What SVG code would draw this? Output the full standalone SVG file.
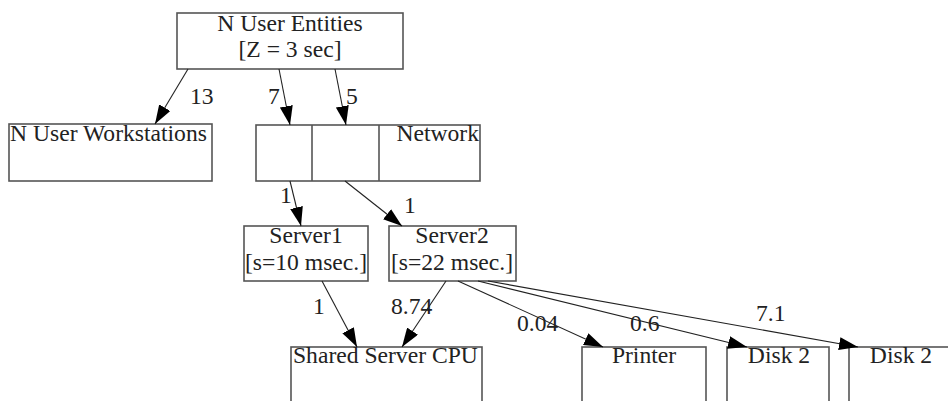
<svg xmlns="http://www.w3.org/2000/svg" width="948" height="401" viewBox="0 0 948 401">
<style>
  .box { fill: #fff; stroke: #555; stroke-width: 1.6; }
  .lbl { font-family: "Liberation Serif", "Times New Roman", serif; font-size: 23.6px; fill: #222; }
  .mid { text-anchor: middle; }
  .end { text-anchor: end; }
  .edge { stroke: #222; stroke-width: 1.1; fill: none; marker-end: url(#arr); }
</style>
<defs>
  <marker id="arr" markerUnits="userSpaceOnUse" markerWidth="19" markerHeight="13" viewBox="0 0 19 13" refX="19" refY="6.5" orient="auto">
    <path d="M0,0 L19,6.5 L0,13 Z" fill="#000"/>
  </marker>
</defs>
<rect width="948" height="401" fill="#fff"/>

<g id="entities">
  <rect class="box" x="177" y="13" width="226" height="56"/>
  <text class="lbl mid" x="290" y="31">N User Entities</text>
  <text class="lbl mid" x="290" y="57">[Z = 3 sec]</text>
</g>
<g id="workstations">
  <rect class="box" x="9" y="124" width="203" height="57"/>
  <text class="lbl" x="10" y="141">N User Workstations</text>
</g>
<g id="network">
  <rect class="box" x="256" y="125" width="224" height="56"/>
  <line x1="312" y1="125" x2="312" y2="181" stroke="#555" stroke-width="1.6"/>
  <line x1="379" y1="125" x2="379" y2="181" stroke="#555" stroke-width="1.6"/>
  <text class="lbl end" x="479" y="141">Network</text>
</g>
<g id="server1">
  <rect class="box" x="244" y="226" width="124" height="55"/>
  <text class="lbl mid" x="306" y="243">Server1</text>
  <text class="lbl mid" x="306" y="270">[s=10 msec.]</text>
</g>
<g id="server2">
  <rect class="box" x="389" y="226" width="127" height="55"/>
  <text class="lbl mid" x="452" y="243">Server2</text>
  <text class="lbl mid" x="452" y="270">[s=22 msec.]</text>
</g>
<g id="cpu">
  <rect class="box" x="291" y="347" width="191" height="70"/>
  <text class="lbl" x="293" y="363">Shared Server CPU</text>
</g>
<g id="printer">
  <rect class="box" x="582" y="347" width="124" height="70"/>
  <text class="lbl mid" x="644" y="363">Printer</text>
</g>
<g id="disk2a">
  <rect class="box" x="727" y="347" width="102" height="70"/>
  <text class="lbl mid" x="779" y="363">Disk 2</text>
</g>
<g id="disk2b">
  <rect class="box" x="849" y="347" width="120" height="70"/>
  <text class="lbl mid" x="901" y="363">Disk 2</text>
</g>

<g id="connectors">
  <line class="edge" x1="188" y1="69" x2="155" y2="124"/>
  <text class="lbl" x="190" y="104">13</text>
  <line class="edge" x1="279" y1="69" x2="290" y2="125"/>
  <text class="lbl" x="268" y="104">7</text>
  <line class="edge" x1="335" y1="69" x2="346" y2="125"/>
  <text class="lbl" x="346" y="104">5</text>
  <line class="edge" x1="290" y1="181" x2="301" y2="226"/>
  <text class="lbl" x="280" y="203">1</text>
  <line class="edge" x1="345" y1="181" x2="402" y2="226"/>
  <text class="lbl" x="404" y="213">1</text>
  <line class="edge" x1="322" y1="281" x2="357" y2="347"/>
  <text class="lbl" x="313" y="314">1</text>
  <line class="edge" x1="446" y1="281" x2="402" y2="347"/>
  <text class="lbl" x="391" y="314">8.74</text>
  <line class="edge" x1="458" y1="281" x2="603" y2="347"/>
  <text class="lbl" x="517" y="331">0.04</text>
  <line class="edge" x1="478" y1="281" x2="747" y2="347"/>
  <text class="lbl" x="630" y="331">0.6</text>
  <line class="edge" x1="488" y1="281" x2="858" y2="347"/>
  <text class="lbl" x="756" y="321">7.1</text>
</g>
</svg>
